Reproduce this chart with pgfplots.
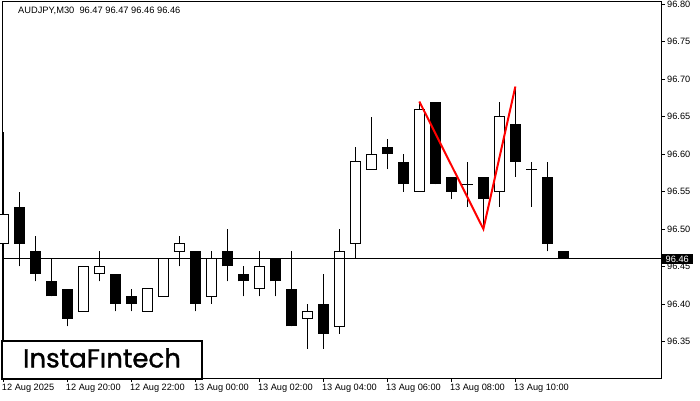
\documentclass[border=0pt]{standalone}
\usepackage{pgfplots}
\pgfplotsset{compat=1.18}
\usepackage{pgfplotstable}
\usepackage{fontspec}
\setmainfont{Liberation Sans}
\newfontfamily\logofont[FakeBold=1.2]{Poppins}

\pgfplotstableread{
x open high low close
0 96.48 96.63 96.34 96.52
5 96.39 96.45 96.39 96.45
6 96.44 96.47 96.43 96.45
9 96.39 96.42 96.39 96.42
10 96.41 96.46 96.41 96.46
11 96.47 96.49 96.45 96.48
13 96.41 96.47 96.40 96.46
16 96.42 96.47 96.41 96.45
19 96.38 96.40 96.34 96.39
21 96.37 96.50 96.36 96.47
22 96.48 96.61 96.46 96.59
23 96.58 96.65 96.58 96.60
26 96.55 96.67 96.55 96.66
29 96.56 96.59 96.53 96.56
31 96.55 96.67 96.53 96.65
33 96.58 96.59 96.53 96.58
}\bull

\pgfplotstableread{
x open high low close
1 96.53 96.55 96.45 96.48
2 96.47 96.49 96.43 96.44
3 96.43 96.46 96.41 96.41
4 96.42 96.42 96.37 96.38
7 96.44 96.44 96.39 96.40
8 96.41 96.42 96.39 96.40
12 96.47 96.47 96.39 96.40
14 96.47 96.50 96.43 96.45
15 96.44 96.45 96.41 96.43
17 96.46 96.46 96.41 96.43
18 96.42 96.47 96.37 96.37
20 96.40 96.44 96.34 96.36
24 96.61 96.62 96.58 96.60
25 96.59 96.60 96.55 96.56
27 96.67 96.67 96.56 96.56
28 96.57 96.57 96.54 96.55
30 96.57 96.57 96.50 96.54
32 96.64 96.69 96.57 96.59
34 96.57 96.59 96.47 96.48
35 96.47 96.47 96.46 96.46
}\bear

\pgfplotsset{
  candlebar/.style={only marks, mark=*, mark size=0pt, mark options={draw=none, fill=none},
    error bars/.cd, y dir=plus, y explicit, error mark=none,
    error bar style={#1}},
}

\begin{document}
\begin{tikzpicture}
\useasboundingbox (0,0) rectangle (700pt,400pt);
\begin{axis}[
  at={(2pt,22pt)}, anchor=south west,
  width=659pt, height=376pt, scale only axis,
  xmin=-0.08, xmax=41.1, ymin=96.3013, ymax=96.8027,
  axis line style={black, line width=1pt},
  clip mode=individual,
  xtick={0,4,8,12,16,20,24,28,32},
  xticklabels={12 Aug 2025, 12 Aug 20:00, 12 Aug 22:00, 13 Aug 00:00, 13 Aug 02:00, 13 Aug 04:00, 13 Aug 06:00, 13 Aug 08:00, 13 Aug 10:00},
  ytick={96.35,96.4,96.45,96.5,96.55,96.6,96.65,96.7,96.75,96.8},
  xtick pos=bottom, ytick pos=right, yticklabel pos=right,
  tick align=outside, major tick length=4pt,
  tick style={black, line width=0.8pt},
  tick label style={font=\fontsize{9.2}{10}\selectfont, text=black},
  yticklabel style={anchor=west, inner sep=0pt, xshift=2pt,
    /pgf/number format/fixed, /pgf/number format/fixed zerofill, /pgf/number format/precision=2},
  xticklabel style={anchor=north west, inner sep=0pt, xshift=-1.5pt, yshift=-2pt},
  /pgf/number format/assume math mode=true,
]
% wicks
\addplot[candlebar={black, line width=1pt}]
  table[x=x, y=low, y error plus expr=\thisrow{high}-\thisrow{low}] {\bull};
\addplot[candlebar={black, line width=1pt}]
  table[x=x, y=low, y error plus expr=\thisrow{high}-\thisrow{low}] {\bear};
% bear bodies
\addplot[candlebar={black, line width=10.5pt}]
  table[x=x, y=close, y error plus expr=\thisrow{open}-\thisrow{close}] {\bear};
% bull bodies
\addplot[candlebar={black, line width=10.5pt}]
  table[x=x, y=open, y error plus expr=\thisrow{close}-\thisrow{open}] {\bull};
\addplot[candlebar={white, line width=8.5pt}]
  table[x=x, y=open, y error plus expr=\thisrow{close}-\thisrow{open}] {\bull};
\addplot[only marks, mark=-, mark size=5.25pt, mark options={black, line width=1pt}]
  table[x=x, y=open] {\bull};
\addplot[only marks, mark=-, mark size=5.25pt, mark options={black, line width=1pt}]
  table[x=x, y=close] {\bull};
% current price line
\addplot[black, line width=1pt] coordinates {(-1,96.46) (42,96.46)};
% pattern
\addplot[red, line width=2pt] coordinates {(26,96.67) (30,96.50) (32,96.69)};
\coordinate (pricept) at (axis cs:41.1,96.46);
\end{axis}
\node[fill=black, text=white, anchor=west, inner xsep=4pt, inner ysep=1pt, minimum height=10pt,
  font=\fontsize{9.2}{10}\selectfont] at ([xshift=0.5pt]pricept) {96.46};
\node[anchor=base west, inner sep=0pt, font=\fontsize{9.3}{10}\selectfont] at (18pt,386.5pt)
  {AUDJPY,M30\ \ 96.47 96.47 96.46 96.46};
\draw[black, line width=2pt, fill=white] (1.7pt,21pt) rectangle (201.7pt,59pt);
\node[anchor=base, inner sep=0pt, font=\logofont\fontsize{26}{28}\selectfont] at (102pt,32.6pt) {InstaFıntech};
\end{tikzpicture}
\end{document}
